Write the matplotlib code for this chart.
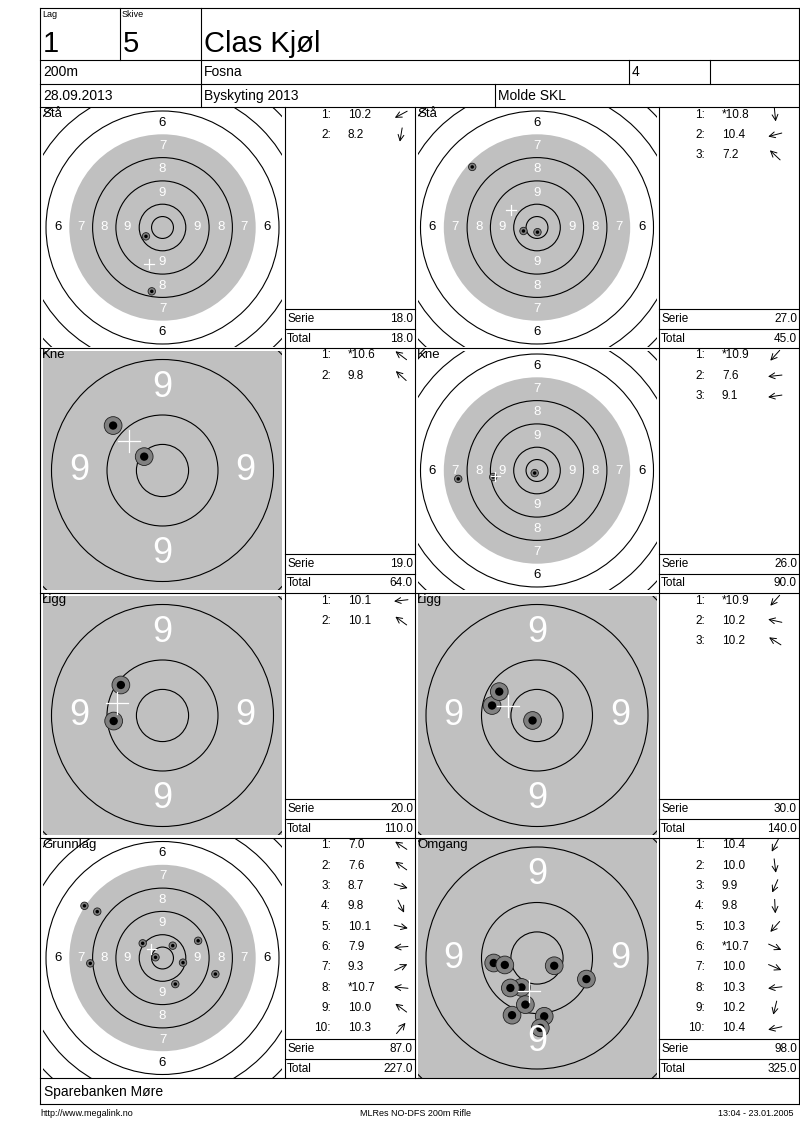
import matplotlib
matplotlib.use('Agg')
import matplotlib.pyplot as plt
from matplotlib.patches import Circle
import numpy as np

plt.rcParams['font.family'] = ['Liberation Sans', 'DejaVu Sans']

# header / footer texts
lag = "1"
skive = "5"
skytter = "Clas Kjøl"
avstand = "200m"
skytterlag = "Fosna"
klasse = "4"
dato = "28.09.2013"
stevne = "Byskyting 2013"
arrangor = "Molde SKL"
sponsor = "Sparebanken Møre"
footer_left = "http://www.megalink.no"
footer_mid = "MLRes NO-DFS 200m Rifle"
footer_right = "13:04 - 23.01.2005"

# one entry per target panel (left/right, top to bottom)
titles = ["Stå", "Stå", "Kne", "Kne", "Ligg", "Ligg", "Grunnlag", "Omgang"]
zoomed = [False, False, True, False, True, True, False, True]
scores = [
    ["10.2", "8.2"],
    ["*10.8", "10.4", "7.2"],
    ["*10.6", "9.8"],
    ["*10.9", "7.6", "9.1"],
    ["10.1", "10.1"],
    ["*10.9", "10.2", "10.2"],
    ["7.0", "7.6", "8.7", "9.8", "10.1", "7.9", "9.3", "*10.7", "10.0", "10.3"],
    ["10.4", "10.0", "9.9", "9.8", "10.3", "*10.7", "10.0", "10.3", "10.2", "10.4"],
]
# shot positions in ring widths from centre (x right, y up)
shot_x = [
    [-0.71, -0.46],
    [0.02, -0.58, -2.78],
    [-0.33, -0.89],
    [-0.10, -3.38, -1.88],
    [-0.88, -0.75],
    [-0.08, -0.81, -0.68],
    [-3.35, -2.80, 2.27, 0.55, 0.88, -3.10, 1.53, -0.30, -0.85, 0.44],
    [-0.28, 0.13, -0.45, 0.06, -0.48, 0.31, 0.89, -0.78, -0.21, -0.58],
]
shot_y = [
    [-0.38, -2.74],
    [-0.20, -0.15, 2.60],
    [0.25, 0.81],
    [-0.11, -0.36, -0.28],
    [-0.10, 0.55],
    [-0.09, 0.18, 0.43],
    [2.24, 1.99, -0.69, -1.12, -0.20, -0.23, 0.74, 0.03, 0.63, 0.53],
    [-0.53, -1.05, -1.03, -1.26, -0.54, -0.14, -0.38, -0.09, -0.84, -0.125],
]
serie = ["18.0", "27.0", "19.0", "26.0", "20.0", "30.0", "87.0", "98.0"]
total = ["18.0", "45.0", "64.0", "90.0", "110.0", "140.0", "227.0", "325.0"]

W, H = 800, 1130
LEFT, RIGHT = 40, 799
row_y = [107, 348, 593, 838, 1078]
target_x = [(40, 285), (415, 659)]
list_x = [(285, 415), (659, 799)]
GRAY = '#c0c0c0'
SIDE = 239
LW = 0.8

fig = plt.figure(figsize=(W / 100, H / 100), dpi=100)


def draw_target(ax, xs, ys, zoom):
    ppu = 55.5 if zoom else 23.3
    half = SIDE / 2 / ppu
    ax.set_xlim(-half, half)
    ax.set_ylim(-half, half)
    ax.axis('off')
    ax.add_patch(Circle((0, 0), 4, fc=GRAY, ec='none'))
    for r in [0.47, 1, 2, 3, 5, 6, 7, 8, 9]:
        ax.add_patch(Circle((0, 0), r, fill=False, ec='black', lw=LW))
    fs = 26 if zoom else 9.5
    for n in range(9, 3, -1):
        d = 10.5 - n
        if d + 0.3 > half:
            continue
        col = 'white' if n >= 7 else 'black'
        for px, py in [(0, d), (0, -d), (d, 0), (-d, 0)]:
            ax.text(px, py, str(n), color=col, fontsize=fs, ha='center', va='center')
    for x, y in zip(xs, ys):
        ax.add_patch(Circle((x, y), 0.16, fc='#808080', ec='#202020', lw=0.6))
        ax.add_patch(Circle((x, y), 0.075, fc='black', ec='none'))
    mx, my = np.mean(xs), np.mean(ys)
    c = 0.2
    ax.plot([mx - c, mx + c], [my, my], color='white', lw=0.9)
    ax.plot([mx, mx], [my - c, my + c], color='white', lw=0.9)


for i in range(len(titles)):
    r, c = divmod(i, 2)
    x0, x1 = target_x[c]
    y0, y1 = row_y[r], row_y[r + 1]
    cx, cy = (x0 + x1) / 2, (y0 + y1) / 2
    ax = fig.add_axes([(cx - SIDE / 2) / W, 1 - (cy + SIDE / 2) / H, SIDE / W, SIDE / H])
    draw_target(ax, shot_x[i], shot_y[i], zoomed[i])

# overlay with table lines and text, in pixel units
bg = fig.add_axes([0, 0, 1, 1], zorder=5)
bg.set_xlim(0, W)
bg.set_ylim(H, 0)
bg.axis('off')


def line(x0, y0, x1, y1):
    bg.plot([x0, x1], [y0, y1], color='black', lw=LW, solid_capstyle='projecting')


for y in [8, 60, 84, 107, 348, 593, 838, 1078, 1104]:
    line(LEFT, y, RIGHT, y)
line(LEFT, 8, LEFT, 1104)
line(RIGHT, 8, RIGHT, 1104)
for x, ya, yb in [(120, 8, 60), (201, 8, 60), (201, 60, 84), (629, 60, 84),
                  (710, 60, 84), (201, 84, 107), (495, 84, 107)]:
    line(x, ya, x, yb)
for x in [285, 415, 659]:
    line(x, 107, x, 1078)

# header text
bg.text(42, 10, "Lag", fontsize=6.5, va='top')
bg.text(122, 10, "Skive", fontsize=6.5, va='top')
bg.text(43, 52, lag, fontsize=21, va='baseline')
bg.text(123, 52, skive, fontsize=21, va='baseline')
bg.text(204, 52, skytter, fontsize=21, va='baseline')
for x, t in [(43, avstand), (204, skytterlag), (632, klasse)]:
    bg.text(x, 72.5, t, fontsize=10, va='center')
for x, t in [(43, dato), (204, stevne), (498, arrangor)]:
    bg.text(x, 96, t, fontsize=10, va='center')

# panel lists
FS = 8.5
for i in range(len(titles)):
    r, c = divmod(i, 2)
    y0, y1 = row_y[r], row_y[r + 1]
    tx0 = target_x[c][0]
    bg.text(tx0 + 2, y0 + 1, titles[i], fontsize=9.5, va='top')
    lx0, lx1 = list_x[c]
    for k, s in enumerate(scores[i]):
        yk = y0 + 7.5 + k * 20.3
        bg.text(lx0 + 46, yk, f"{k + 1}:", fontsize=FS, ha='right', va='center')
        bg.text(lx0 + 63, yk, s, fontsize=FS, ha='left', va='center')
        a = np.arctan2(shot_y[i][k], shot_x[i][k])
        ux, uy = np.cos(a) * 7, -np.sin(a) * 7
        ax_c = lx0 + 116
        bg.annotate('', xy=(ax_c + ux, yk + uy), xytext=(ax_c - ux, yk - uy),
                    arrowprops=dict(arrowstyle='->, head_length=0.6, head_width=0.3',
                                    lw=0.7, color='black', shrinkA=0, shrinkB=0,
                                    mutation_scale=7))
    line(lx0, y1 - 39, lx1, y1 - 39)
    line(lx0, y1 - 19, lx1, y1 - 19)
    bg.text(lx0 + 2, y1 - 29, "Serie", fontsize=FS, va='center')
    bg.text(lx1 - 2, y1 - 29, serie[i], fontsize=FS, ha='right', va='center')
    bg.text(lx0 + 2, y1 - 9.5, "Total", fontsize=FS, va='center')
    bg.text(lx1 - 2, y1 - 9.5, total[i], fontsize=FS, ha='right', va='center')

# footer
bg.text(44, 1092, sponsor, fontsize=10, va='center')
bg.text(40, 1113, footer_left, fontsize=6.5, va='center')
bg.text(415, 1113, footer_mid, fontsize=6.5, ha='center', va='center')
bg.text(793, 1113, footer_right, fontsize=6.5, ha='right', va='center')

fig.savefig('out.png', dpi=100, facecolor='white')
plt.close(fig)
